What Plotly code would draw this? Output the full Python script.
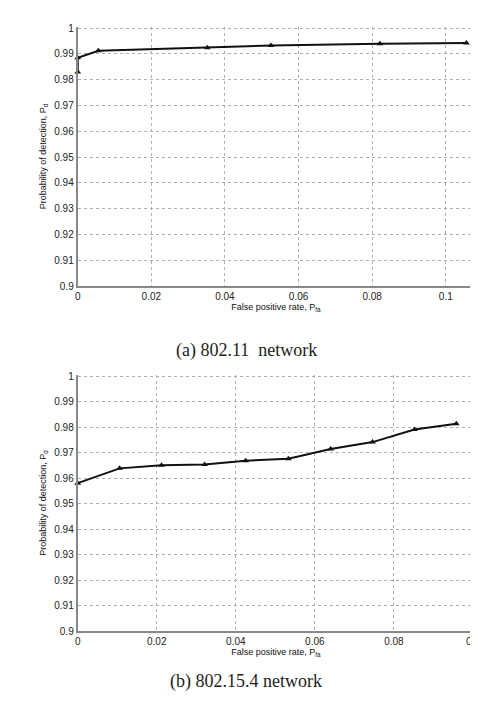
import plotly.graph_objects as go

# (a) 802.11 network
x_a = [0, 0, 0.0056, 0.0352, 0.0525, 0.0821, 0.1056]
y_a = [0.983, 0.9885, 0.9912, 0.9924, 0.9932, 0.9939, 0.9942]

# (b) 802.15.4 network
x_b = [0, 0.0106, 0.0212, 0.0321, 0.0425, 0.0533, 0.064, 0.0746, 0.0852, 0.0958]
y_b = [0.958, 0.9638, 0.965, 0.9653, 0.9668, 0.9676, 0.9714, 0.9741, 0.979, 0.9813]

x_ticks = [0, 0.02, 0.04, 0.06, 0.08, 0.1]
x_tick_text = ["0", "0.02", "0.04", "0.06", "0.08", "0.1"]
y_ticks = [0.9, 0.91, 0.92, 0.93, 0.94, 0.95, 0.96, 0.97, 0.98, 0.99, 1.0]
y_tick_text = ["0.9", "0.91", "0.92", "0.93", "0.94", "0.95", "0.96", "0.97", "0.98", "0.99", "1"]

captions = ["(a) 802.11  network", "(b) 802.15.4 network"]
x_title = "False positive rate, P<sub>fa</sub>"
y_title = "Probability of detection, P<sub>d</sub>"

W, H = 478, 704
fig = go.Figure()

fig.add_trace(go.Scatter(x=x_a, y=y_a, mode="lines+markers", xaxis="x", yaxis="y",
                         line=dict(color="#111", width=2),
                         marker=dict(symbol="triangle-up", size=6, color="#111"),
                         showlegend=False, cliponaxis=False))
fig.add_trace(go.Scatter(x=x_b, y=y_b, mode="lines+markers", xaxis="x2", yaxis="y2",
                         line=dict(color="#111", width=2),
                         marker=dict(symbol="triangle-up", size=6, color="#111"),
                         showlegend=False, cliponaxis=False))

xd = [68 / W, 472 / W]
top_dom = [1 - 278 / H, 1 - 15 / H]
bot_dom = [1 - 628 / H, 1 - 368 / H]

tickfont = dict(family="Liberation Sans, Arial", size=10, color="#222")
titlefont = dict(family="Liberation Sans, Arial", size=9, color="#111")

common_x = dict(tickvals=x_ticks, ticktext=x_tick_text, showgrid=True, gridcolor="#b0b0b0",
                griddash="dot", gridwidth=1, showline=True, linecolor="#888", linewidth=2,
                zeroline=False, tickfont=tickfont, ticks="", ticklabeloverflow="allow",
                title=dict(text=x_title, font=titlefont, standoff=2))
common_y = dict(tickvals=y_ticks, ticktext=y_tick_text, showgrid=True, gridcolor="#b0b0b0",
                griddash="dot", gridwidth=1, showline=True, linecolor="#888", linewidth=2,
                zeroline=False, tickfont=tickfont, ticks="", range=[0.9, 1.0005],
                title=dict(text=y_title, font=titlefont, standoff=6))

fig.update_layout(
    width=W, height=H, margin=dict(l=0, r=0, t=0, b=0),
    paper_bgcolor="white", plot_bgcolor="white",
    xaxis=dict(domain=xd, anchor="y", range=[0, 0.1077], **common_x),
    yaxis=dict(domain=top_dom, anchor="x", **common_y),
    xaxis2=dict(domain=xd, anchor="y2", range=[0, 0.1003], **common_x),
    yaxis2=dict(domain=bot_dom, anchor="x2", **common_y),
    annotations=[
        dict(text=captions[0], x=240 / W, y=1 - 343 / H, xref="paper", yref="paper",
             showarrow=False, font=dict(family="Liberation Serif", size=18, color="#222")),
        dict(text=captions[1], x=240 / W, y=1 - 692 / H, xref="paper", yref="paper",
             showarrow=False, font=dict(family="Liberation Serif", size=18, color="#222")),
    ],
)

fig.write_html("out.html")
